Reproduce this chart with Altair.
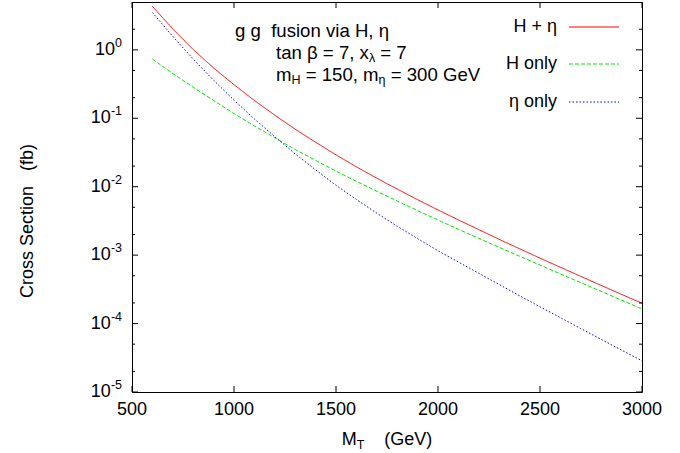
import altair as alt
import pandas as pd

# ---------------- data ----------------
mt = [600, 700, 800, 900, 1000, 1100, 1200, 1300, 1400, 1500, 1600, 1700, 1800,
      1900, 2000, 2100, 2200, 2300, 2400, 2500, 2600, 2700, 2800, 2900, 3000]
h_eta = [4.32, 2.02, 1.01, 0.543, 0.309, 0.182, 0.111, 0.0692, 0.0447, 0.0292,
         0.0195, 0.0133, 0.00923, 0.00646, 0.00457, 0.00327, 0.00236, 0.00170,
         0.00124, 0.000904, 0.000664, 0.000489, 0.000361, 0.000267, 0.000198]
h_only = [0.731, 0.451, 0.284, 0.182, 0.117, 0.0774, 0.0518, 0.0350, 0.0242, 0.0169,
          0.0120, 0.00857, 0.00617, 0.00447, 0.00326, 0.00239, 0.00176, 0.00130,
          0.000964, 0.000716, 0.000532, 0.000396, 0.000295, 0.000220, 0.000164]
eta_only = [3.51, 1.57, 0.733, 0.359, 0.184, 0.0977, 0.0537, 0.0302, 0.0176, 0.0105,
            0.00650, 0.00410, 0.00265, 0.00174, 0.00116, 0.000791, 0.000543, 0.000372,
            0.000255, 0.000176, 0.000122, 0.0000845, 0.0000587, 0.0000409, 0.0000286]
series_names = ["H + η", "H only", "η only"]
series_colors = ["#ff0000", "#00e800", "#0000ff"]
series_dash = [[1, 0], [4, 2], [1.5, 2]]

y_major = [1e-5, 1e-4, 1e-3, 1e-2, 1e-1, 1]
y_exp = ["-5", "-4", "-3", "-2", "-1", "0"]
y_minor = [2e-5, 5e-5, 2e-4, 5e-4, 2e-3, 5e-3, 2e-2, 5e-2, 0.2, 0.5, 2]
x_major = [500, 1000, 1500, 2000, 2500, 3000]
x_labels = ["500", "1000", "1500", "2000", "2500", "3000"]

# ---------------- layout ----------------
FONT = "Liberation Sans"
FS = 18
FS_ANN = 18.6
FS_SMALL = 12.5
W, H = 510, 390
PAD_L, PAD_T = 132, 2
SP = "\u00a0"

# Arial / Liberation Sans advance widths (per 1000 em)
AW = {" ": 278, SP: 278, "0": 556, "1": 556, "2": 556, "3": 556, "4": 556, "5": 556,
      "6": 556, "7": 556, "8": 556, "9": 556, "=": 584, ",": 278, "-": 333,
      "(": 333, ")": 333, "G": 778, "e": 556, "V": 667, "M": 833, "H": 722,
      "T": 611, "a": 556, "n": 556, "t": 278, "x": 500, "m": 833, "β": 575,
      "λ": 500, "η": 556}


def tw(s, size):
    return sum(AW.get(c, 556) for c in s) * size / 1000.0


def pieces_layer(pieces, x0, y0, fs):
    rows = []
    x = x0
    for text, kind in pieces:
        size = fs if kind == "n" else FS_SMALL
        dy = 0 if kind == "n" else (5 if kind == "sub" else -7)
        body = text.lstrip(" ")
        lead = tw(text[: len(text) - len(body)], size)
        rows.append({"t": body.replace(" ", SP), "x": x + lead, "y": y0 + dy, "s": size})
        x += tw(text, size)
    return rows


xscale = alt.Scale(domain=[500, 3000], nice=False, zero=False)
yscale = alt.Scale(type="log", domain=[1e-5, 5], nice=False)

rows = []
for name, vals in zip(series_names, [h_eta, h_only, eta_only]):
    for m, v in zip(mt, vals):
        rows.append({"mt": m, "v": v, "s": name})
df = pd.DataFrame(rows)

lines = alt.Chart(df).mark_line(strokeWidth=1, clip=True).encode(
    x=alt.X("mt:Q", scale=xscale, axis=None),
    y=alt.Y("v:Q", scale=yscale, axis=None),
    color=alt.Color("s:N", scale=alt.Scale(domain=series_names, range=series_colors), legend=None),
    strokeDash=alt.StrokeDash("s:N", scale=alt.Scale(domain=series_names, range=series_dash), legend=None),
    order=alt.Order("mt:Q"),
)

ymaj = pd.DataFrame({"v": y_major, "e": y_exp})
ymin = pd.DataFrame({"v": y_minor})
xmaj = pd.DataFrame({"v": x_major, "l": x_labels})


def yticks(data, length):
    left = alt.Chart(data).mark_rule(color="black", strokeWidth=1).encode(
        y=alt.Y("v:Q", scale=yscale, axis=None), x=alt.value(0), x2=alt.value(length))
    right = alt.Chart(data).mark_rule(color="black", strokeWidth=1).encode(
        y=alt.Y("v:Q", scale=yscale, axis=None), x=alt.value(W - length), x2=alt.value(W))
    return left + right


xt_b = alt.Chart(xmaj).mark_rule(color="black", strokeWidth=1).encode(
    x=alt.X("v:Q", scale=xscale, axis=None), y=alt.value(H - 6), y2=alt.value(H))
xt_t = alt.Chart(xmaj).mark_rule(color="black", strokeWidth=1).encode(
    x=alt.X("v:Q", scale=xscale, axis=None), y=alt.value(0), y2=alt.value(6))

# y tick labels: "10" + superscript exponent, right-aligned as a whole
ylab = ymaj.copy()
ylab["base"] = "10"
ylab["ex"] = [(-10 - tw(e, FS_SMALL)) for e in y_exp]
ybase = alt.Chart(ylab).mark_text(align="right", baseline="middle", font=FONT, fontSize=FS).encode(
    y=alt.Y("v:Q", scale=yscale, axis=None), x=alt.X("ex:Q", scale=None), text="base:N")
yexp = alt.Chart(ylab).mark_text(align="left", baseline="middle", font=FONT, fontSize=FS_SMALL, dy=-7).encode(
    y=alt.Y("v:Q", scale=yscale, axis=None), x=alt.X("ex:Q", scale=None), text="e:N")

xlab = alt.Chart(xmaj).mark_text(align="center", baseline="middle", font=FONT, fontSize=FS).encode(
    x=alt.X("v:Q", scale=xscale, axis=None), y=alt.value(H + 18), text="l:N")

# axis titles
xt_pieces = [("M", "n"), ("T", "sub"), ("    (GeV)", "n")]
xt_w = tw("M", FS) + tw("T", FS_SMALL) + tw("    (GeV)", FS)
xtitle_rows = pieces_layer(xt_pieces, W / 2 - xt_w / 2, 440 - PAD_T, FS)

ytitle = alt.Chart(pd.DataFrame({"t": ["Cross" + SP + "Section" + SP * 3 + "(fb)"]})).mark_text(
    align="center", baseline="middle", angle=270, font=FONT, fontSize=FS).encode(
    x=alt.value(28 - PAD_L), y=alt.value(221 - PAD_T), text="t:N")

# annotation block
ann_rows = []
ann_rows += pieces_layer([("g g  fusion via H, η", "n")], 235 - PAD_L, 31 - PAD_T, FS_ANN)
ann_rows += pieces_layer([("tan β = 7, x", "n"), ("λ", "sub"), (" = 7", "n")], 276 - PAD_L, 53 - PAD_T, FS_ANN)
ann_rows += pieces_layer([("m", "n"), ("H", "sub"), (" = 150, m", "n"), ("η", "sub"),
                          (" = 300 GeV", "n")], 276 - PAD_L, 75 - PAD_T, FS_ANN)
text_df = pd.DataFrame(ann_rows + xtitle_rows)
texts = alt.Chart(text_df).mark_text(align="left", baseline="middle", font=FONT).encode(
    x=alt.X("x:Q", scale=None), y=alt.Y("y:Q", scale=None), text="t:N",
    size=alt.Size("s:Q", scale=None, legend=None))

# key (gnuplot style: label right-aligned, sample line to the right)
key_df = pd.DataFrame({"s": series_names, "ly": [27 - PAD_T, 64 - PAD_T, 102 - PAD_T]})
key_text = alt.Chart(key_df).mark_text(align="right", baseline="middle", font=FONT, fontSize=FS).encode(
    x=alt.value(557 - PAD_L), y=alt.Y("ly:Q", scale=None), text="s:N")
key_line = alt.Chart(key_df).mark_rule(strokeWidth=1).encode(
    x=alt.value(569 - PAD_L), x2=alt.value(619 - PAD_L), y=alt.Y("ly:Q", scale=None),
    color=alt.Color("s:N", scale=alt.Scale(domain=series_names, range=series_colors), legend=None),
    strokeDash=alt.StrokeDash("s:N", scale=alt.Scale(domain=series_names, range=series_dash), legend=None))

chart = alt.layer(
    lines, yticks(ymaj, 6), yticks(ymin, 3), xt_b, xt_t, ybase, yexp, xlab, ytitle,
    texts, key_text, key_line
).properties(
    width=W, height=H,
    autosize=alt.AutoSizeParams(type="none"),
    padding={"left": PAD_L, "top": PAD_T, "right": 680 - PAD_L - W, "bottom": 453 - PAD_T - H},
    background="white",
).configure_view(stroke="black", strokeWidth=1)

chart.save("out.html", embed_options={"renderer": "svg", "actions": False})
